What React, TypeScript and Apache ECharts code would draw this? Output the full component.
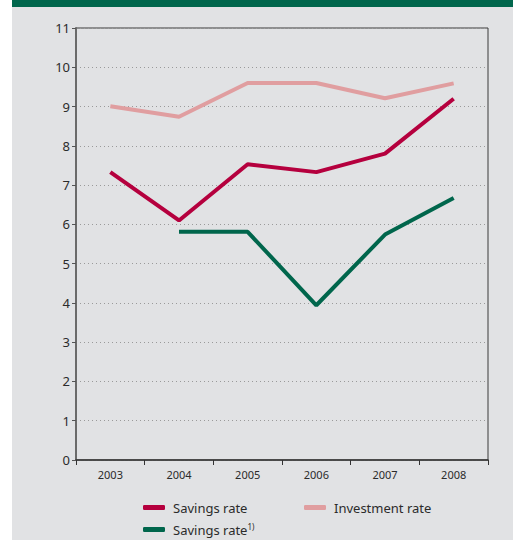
import React, { useEffect, useRef } from "react";
import * as echarts from "echarts";

const years = ["2003", "2004", "2005", "2006", "2007", "2008"];
const savingsRate = [7.33, 6.1, 7.53, 7.33, 7.8, 9.2];
const investmentRate = [9.01, 8.74, 9.6, 9.6, 9.21, 9.59];
const savingsRateAlt: (number | null)[] = [null, 5.81, 5.81, 3.94, 5.74, 6.67];

const SAVINGS = "Savings rate";
const INVEST = "Investment rate";
const SAVINGS_ALT = "Savings rate 1)";

const FONT = "'Noto Sans', sans-serif";

export default function App() {
  const ref = useRef<HTMLDivElement>(null);

  useEffect(() => {
    if (!ref.current) return;
    const chart = echarts.init(ref.current, null, { renderer: "svg" });

    const legendBase = {
      orient: "horizontal" as const,
      padding: 0,
      itemWidth: 22,
      itemHeight: 5,
      icon: "roundRect",
      selectedMode: false,
      textStyle: {
        fontFamily: FONT,
        fontSize: 13,
        color: "#2b2b2b",
        padding: [0, 0, 0, 3],
        rich: {
          sup: { fontFamily: FONT, fontSize: 8, color: "#2b2b2b", padding: [0, 0, 7, 0] },
          base: { fontFamily: FONT, fontSize: 13, color: "#2b2b2b" },
        },
      },
    };

    chart.setOption({
      animation: false,
      backgroundColor: "#ffffff",
      textStyle: { fontFamily: FONT },
      graphic: [
        {
          type: "rect",
          z: -100,
          silent: true,
          shape: { x: 12, y: 0, width: 501, height: 540 },
          style: { fill: "#e1e2e4" },
        },
        {
          type: "rect",
          z: -99,
          silent: true,
          shape: { x: 12, y: 0, width: 501, height: 7 },
          style: { fill: "#00664c" },
        },
      ],
      grid: {
        left: 76,
        top: 28,
        right: 30,
        bottom: 80,
        show: true,
        borderColor: "#3a3a3a",
        borderWidth: 1,
        backgroundColor: "transparent",
      },
      legend: [
        { ...legendBase, left: 143, top: 501, data: [SAVINGS] },
        { ...legendBase, left: 304, top: 501, data: [INVEST] },
        {
          ...legendBase,
          left: 143,
          top: 522,
          data: [SAVINGS_ALT],
          formatter: () => "{base|Savings rate}{sup|1)}",
        },
      ],
      xAxis: {
        type: "category",
        data: years,
        boundaryGap: true,
        axisLine: { show: true, lineStyle: { color: "#333", width: 1.5 } },
        axisTick: { show: true, length: 5, alignWithLabel: false, lineStyle: { color: "#333", width: 1 } },
        axisLabel: { fontFamily: FONT, fontSize: 11, color: "#2b2b2b", margin: 9 },
        splitLine: { show: false },
      },
      yAxis: {
        type: "value",
        min: 0,
        max: 11,
        interval: 1,
        axisLine: { show: true, lineStyle: { color: "#6a6a6a", width: 2 } },
        axisTick: { show: true, length: 4, lineStyle: { color: "#555", width: 1 } },
        axisLabel: { fontFamily: FONT, fontSize: 13, color: "#2b2b2b", margin: 6 },
        splitLine: {
          show: true,
          lineStyle: { color: "#9a9a9a", width: 1, type: [1, 3] },
        },
      },
      series: [
        {
          name: INVEST,
          type: "line",
          data: investmentRate,
          symbol: "none",
          lineStyle: { color: "#e09ea0", width: 4 },
          itemStyle: { color: "#e09ea0" },
          z: 3,
        },
        {
          name: SAVINGS,
          type: "line",
          data: savingsRate,
          symbol: "none",
          lineStyle: { color: "#b5003e", width: 4 },
          itemStyle: { color: "#b5003e" },
          z: 4,
        },
        {
          name: SAVINGS_ALT,
          type: "line",
          data: savingsRateAlt.map((v) => (v === null ? "-" : v)),
          symbol: "none",
          lineStyle: { color: "#00664c", width: 4 },
          itemStyle: { color: "#00664c" },
          z: 5,
        },
      ],
    });

    return () => chart.dispose();
  }, []);

  return (
    <div
      ref={ref}
      style={{ position: "fixed", left: 0, top: 0, width: 518, height: 540 }}
    />
  );
}
